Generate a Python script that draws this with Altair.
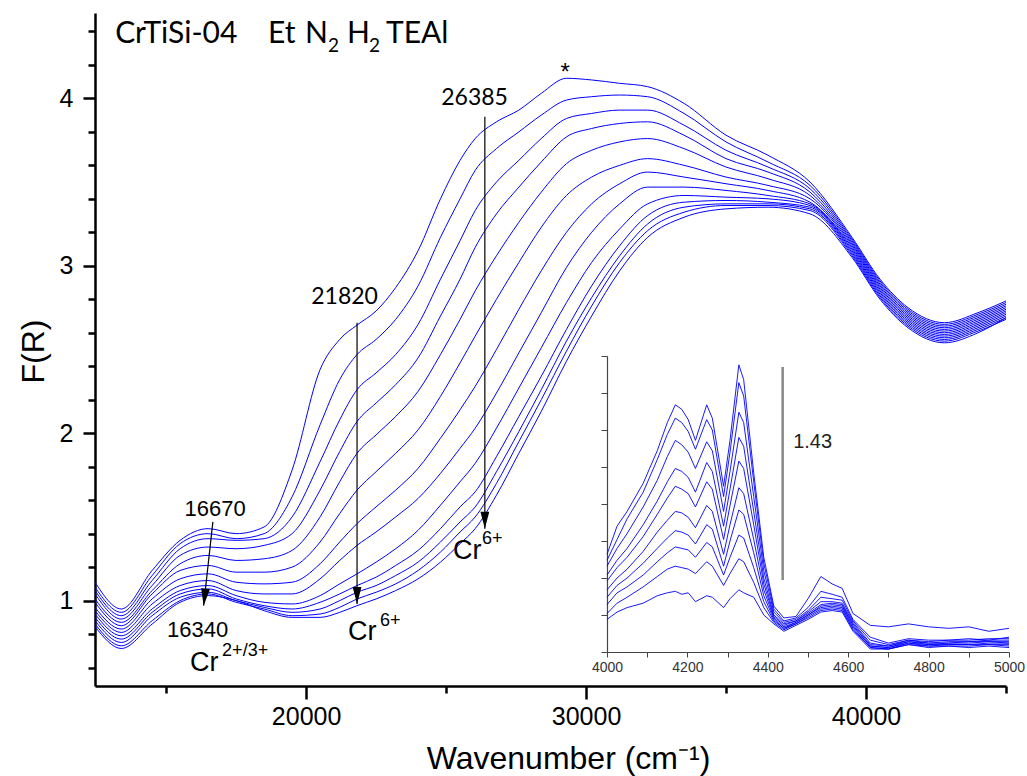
import altair as alt
import pandas as pd

# ---------------------------------------------------------------- data
# UV-Vis DRS of CrTiSi-04 during Et / N2 / H2 / TEAl treatment, F(R) vs wavenumber (cm-1)
WAVENUMBER = [12460, 13400, 14500, 15500, 16500, 17500, 18500, 19500, 20500, 21200,
              21820, 22500, 23200, 24000, 24800, 25500, 26040, 26800, 27600, 28400,
              29300, 30200, 31200, 32200, 33500, 35000, 36500, 38000, 39500, 40500,
              41500, 42800, 44000, 45000]

S01 = [1.11, 0.95, 1.18, 1.36, 1.43, 1.40, 1.44, 1.78, 2.38, 2.56, 2.646, 2.73, 2.87, 3.09, 3.40, 3.63, 3.76,
       3.86, 3.93, 4.03, 4.12, 4.11, 4.09, 4.07, 3.97, 3.78, 3.66, 3.50, 3.17, 2.92, 2.75, 2.66, 2.72, 2.79]
S02 = [1.08, 0.93, 1.15, 1.34, 1.40, 1.37, 1.40, 1.62, 2.05, 2.32, 2.47, 2.56, 2.68, 2.88, 3.17, 3.40, 3.57,
       3.70, 3.80, 3.90, 3.99, 4.01, 4.02, 4.01, 3.91, 3.74, 3.62, 3.48, 3.16, 2.91, 2.74, 2.65, 2.71, 2.78]
S03 = [1.06, 0.91, 1.12, 1.31, 1.37, 1.36, 1.37, 1.50, 1.83, 2.08, 2.26, 2.36, 2.47, 2.65, 2.92, 3.15, 3.33,
       3.50, 3.63, 3.76, 3.88, 3.91, 3.93, 3.93, 3.84, 3.69, 3.59, 3.46, 3.15, 2.90, 2.73, 2.64, 2.70, 2.77]
S04 = [1.04, 0.89, 1.09, 1.27, 1.32, 1.31, 1.33, 1.40, 1.66, 1.89, 2.07, 2.18, 2.29, 2.45, 2.70, 2.92, 3.11,
       3.31, 3.47, 3.62, 3.77, 3.82, 3.85, 3.86, 3.78, 3.64, 3.56, 3.44, 3.14, 2.89, 2.72, 2.63, 2.69, 2.76]
S05 = [1.01, 0.87, 1.06, 1.22, 1.27, 1.24, 1.25, 1.30, 1.50, 1.71, 1.88, 1.99, 2.10, 2.25, 2.47, 2.68, 2.85,
       3.06, 3.26, 3.44, 3.61, 3.69, 3.74, 3.76, 3.70, 3.59, 3.52, 3.42, 3.13, 2.88, 2.71, 2.62, 2.68, 2.75]
S06 = [0.99, 0.85, 1.04, 1.18, 1.21, 1.17, 1.17, 1.20, 1.35, 1.52, 1.66, 1.77, 1.88, 2.02, 2.22, 2.42, 2.58,
       2.80, 3.02, 3.23, 3.42, 3.53, 3.60, 3.64, 3.60, 3.53, 3.48, 3.40, 3.12, 2.87, 2.70, 2.61, 2.67, 2.74]
S07 = [0.96, 0.83, 1.01, 1.13, 1.16, 1.11, 1.10, 1.11, 1.22, 1.35, 1.46, 1.56, 1.66, 1.79, 1.97, 2.14, 2.28,
       2.50, 2.74, 2.97, 3.20, 3.37, 3.49, 3.56, 3.53, 3.49, 3.45, 3.38, 3.11, 2.86, 2.69, 2.60, 2.66, 2.73]
S08 = [0.94, 0.81, 0.98, 1.09, 1.12, 1.06, 1.04, 1.04, 1.13, 1.24, 1.33, 1.41, 1.50, 1.61, 1.76, 1.91, 2.03,
       2.24, 2.48, 2.72, 2.99, 3.20, 3.37, 3.47, 3.47, 3.45, 3.42, 3.37, 3.10, 2.85, 2.68, 2.59, 2.65, 2.72]
S09 = [0.92, 0.79, 0.95, 1.06, 1.09, 1.03, 0.99, 0.98, 1.03, 1.10, 1.16, 1.23, 1.31, 1.42, 1.57, 1.71, 1.82,
       2.03, 2.27, 2.51, 2.78, 3.02, 3.22, 3.37, 3.42, 3.41, 3.40, 3.36, 3.09, 2.84, 2.67, 2.58, 2.64, 2.71]
S10 = [0.90, 0.77, 0.93, 1.04, 1.07, 1.01, 0.97, 0.95, 0.99, 1.04, 1.09, 1.14, 1.21, 1.30, 1.43, 1.56, 1.65,
       1.86, 2.10, 2.34, 2.62, 2.88, 3.12, 3.30, 3.38, 3.39, 3.38, 3.35, 3.08, 2.83, 2.66, 2.57, 2.63, 2.70]
S11 = [0.88, 0.75, 0.91, 1.02, 1.05, 1.00, 0.96, 0.93, 0.95, 1.00, 1.05, 1.09, 1.15, 1.23, 1.35, 1.47, 1.56,
       1.77, 2.01, 2.26, 2.55, 2.81, 3.06, 3.25, 3.35, 3.37, 3.37, 3.34, 3.07, 2.82, 2.65, 2.56, 2.62, 2.69]
S12 = [0.86, 0.73, 0.88, 1.00, 1.04, 0.99, 0.95, 0.91, 0.92, 0.96, 1.01, 1.05, 1.10, 1.18, 1.29, 1.41, 1.50,
       1.70, 1.95, 2.20, 2.49, 2.76, 3.02, 3.21, 3.32, 3.36, 3.36, 3.33, 3.06, 2.81, 2.64, 2.55, 2.61, 2.68]
S13 = [0.845, 0.714, 0.86, 0.99, 1.03, 1.00, 0.94, 0.90, 0.90, 0.93, 0.97, 1.01, 1.06, 1.13, 1.23, 1.34, 1.43,
       1.63, 1.88, 2.13, 2.43, 2.70, 2.97, 3.17, 3.29, 3.34, 3.35, 3.31, 3.05, 2.80, 2.63, 2.54, 2.60, 2.69]
SPECTRA = [S01, S02, S03, S04, S05, S06, S07, S08, S09, S10, S11, S12, S13]

# NIR region (inset), relative F(R)
NIR_WAVENUMBER = [4000, 4025, 4050, 4090, 4125, 4150, 4170, 4186, 4202, 4220, 4248, 4262, 4290, 4306,
                  4328, 4340, 4365, 4390, 4415, 4440, 4470, 4500, 4532, 4560, 4585, 4612, 4655, 4700,
                  4750, 4800, 4850, 4900, 4950, 5000]
N01 = [0.66, 0.85, 0.95, 1.14, 1.36, 1.55, 1.67, 1.64, 1.57, 1.43, 1.67, 1.58, 1.12, 1.43, 1.94, 1.84, 1.21,
       0.64, 0.31, 0.23, 0.24, 0.36, 0.51, 0.46, 0.43, 0.26, 0.18, 0.17, 0.19, 0.17, 0.16, 0.17, 0.14, 0.16]
N02 = [0.62, 0.76, 0.90, 1.08, 1.30, 1.47, 1.58, 1.55, 1.49, 1.37, 1.57, 1.50, 1.05, 1.35, 1.82, 1.73, 1.15,
       0.60, 0.29, 0.21, 0.23, 0.30, 0.41, 0.39, 0.37, 0.22, 0.10, 0.06, 0.09, 0.08, 0.08, 0.09, 0.08, 0.10]
N03 = [0.58, 0.70, 0.80, 0.98, 1.16, 1.32, 1.43, 1.40, 1.35, 1.24, 1.42, 1.36, 0.95, 1.22, 1.62, 1.55, 1.05,
       0.55, 0.27, 0.20, 0.22, 0.28, 0.37, 0.36, 0.35, 0.21, 0.08, 0.05, 0.08, 0.07, 0.08, 0.08, 0.09, 0.09]
N04 = [0.52, 0.62, 0.70, 0.86, 1.02, 1.15, 1.24, 1.22, 1.18, 1.08, 1.28, 1.22, 0.85, 1.10, 1.45, 1.39, 0.95,
       0.50, 0.25, 0.19, 0.21, 0.27, 0.34, 0.34, 0.33, 0.20, 0.06, 0.04, 0.08, 0.06, 0.07, 0.07, 0.08, 0.08]
N05 = [0.48, 0.57, 0.64, 0.78, 0.93, 1.04, 1.12, 1.10, 1.07, 0.98, 1.15, 1.10, 0.76, 0.99, 1.29, 1.24, 0.86,
       0.46, 0.24, 0.18, 0.21, 0.26, 0.32, 0.33, 0.32, 0.19, 0.05, 0.04, 0.07, 0.06, 0.06, 0.07, 0.07, 0.07]
N06 = [0.42, 0.50, 0.56, 0.68, 0.81, 0.89, 0.95, 0.94, 0.91, 0.84, 0.99, 0.95, 0.66, 0.86, 1.11, 1.07, 0.76,
       0.42, 0.23, 0.17, 0.20, 0.25, 0.31, 0.32, 0.31, 0.18, 0.04, 0.03, 0.07, 0.05, 0.06, 0.06, 0.07, 0.06]
N07 = [0.37, 0.45, 0.50, 0.60, 0.70, 0.77, 0.82, 0.81, 0.79, 0.73, 0.86, 0.83, 0.58, 0.75, 0.96, 0.93, 0.67,
       0.38, 0.22, 0.16, 0.20, 0.25, 0.30, 0.31, 0.30, 0.17, 0.04, 0.03, 0.06, 0.05, 0.05, 0.05, 0.06, 0.06]
N08 = [0.32, 0.40, 0.44, 0.52, 0.61, 0.67, 0.71, 0.70, 0.69, 0.64, 0.74, 0.71, 0.52, 0.64, 0.79, 0.77, 0.57,
       0.34, 0.21, 0.16, 0.19, 0.24, 0.29, 0.30, 0.29, 0.16, 0.03, 0.02, 0.06, 0.04, 0.05, 0.05, 0.05, 0.05]
N09 = [0.26, 0.33, 0.37, 0.44, 0.51, 0.56, 0.58, 0.57, 0.56, 0.53, 0.61, 0.58, 0.45, 0.53, 0.63, 0.61, 0.47,
       0.30, 0.20, 0.15, 0.19, 0.23, 0.28, 0.29, 0.28, 0.15, 0.03, 0.02, 0.05, 0.04, 0.04, 0.04, 0.05, 0.04]
N10 = [0.22, 0.27, 0.30, 0.33, 0.38, 0.40, 0.41, 0.39, 0.40, 0.34, 0.38, 0.37, 0.30, 0.36, 0.42, 0.40, 0.37,
       0.25, 0.19, 0.14, 0.18, 0.22, 0.27, 0.28, 0.27, 0.14, 0.02, 0.02, 0.05, 0.03, 0.04, 0.03, 0.04, 0.03]
NIR_SPECTRA = [N01, N02, N03, N04, N05, N06, N07, N08, N09, N10]

# axes
X_DOMAIN = [12460, 45000]
Y_DOMAIN = [0.49, 4.51]
X_MAJOR = [20000, 30000, 40000]
X_MINOR = [15000, 25000, 35000, 45000]
Y_MAJOR = [1, 2, 3, 4]
Y_MINOR = [0.6, 0.8, 1.2, 1.4, 1.6, 1.8, 2.2, 2.4, 2.6, 2.8, 3.2, 3.4, 3.6, 3.8, 4.2, 4.4]
NIR_X_DOMAIN = [4000, 5000]
NIR_Y_DOMAIN = [0, 2]
NIR_X_TICKS = list(range(4000, 5001, 100))
NIR_Y_TICKS = [0, 0.25, 0.5, 0.75, 1.0, 1.25, 1.5, 1.75, 2.0]

# annotations (positions in wavenumber / F(R))
BAND_LABELS = pd.DataFrame({
    "t": ["21820", "26385"],
    "wn": [21375, 26018],
    "F": [2.77, 3.962],
})
PLAIN_CENTER = pd.DataFrame({
    "t": ["16670", "16340", "*"],
    "wn": [16750, 16125, 29250],
    "F": [1.507, 0.785, 4.111],
    "sz": [22, 22, 24],
})
SPECIES = pd.DataFrame({
    "t": ["Cr", "2+/3+", "Cr", "6+", "Cr", "6+"],
    "wn": [15857, 17000, 21500, 22643, 25250, 26286],
    "F": [0.577, 0.672, 0.762, 0.851, 1.25, 1.34],
    "sz": [27, 18, 27, 18, 27, 18],
})
HEADING = pd.DataFrame({
    "t": ["CrTiSi-04", "Et", "N", "2", "H", "2", "TEAl"],
    "wn": [13179, 18643, 19964, 20786, 21464, 22250, 22857],
    "F": [4.331, 4.331, 4.331, 4.278, 4.331, 4.278, 4.331],
    "sz": [30, 30, 30, 19, 30, 19, 30],
})
ARROWS = pd.DataFrame({
    "wn": [16670, 21820, 26385],
    "F": [1.47, 2.66, 3.89],
    "wn2": [16340, 21820, 26385],
    "F2": [0.97, 0.98, 1.43],
    "ang": [6.4, 0, 0],
})
SCALE_BAR = pd.DataFrame({"wn": [4437], "F": [0.486], "F2": [1.926]})
SCALE_LABEL = pd.DataFrame({"t": ["1.43"], "wn": [4463], "F": [1.378]})

ARIAL = "Liberation Sans, Arial, sans-serif"
CALI = "Lato, Carlito, Calibri, sans-serif"
BLUE = "#0000ff"

# ---------------------------------------------------------------- tables
main_rows = []
for k, vals in enumerate(SPECTRA):
    for w, f in zip(WAVENUMBER, vals):
        main_rows.append({"wn": w, "F": f, "s": k})
main_df = pd.DataFrame(main_rows)

nir_rows = []
for k, vals in enumerate(NIR_SPECTRA):
    for w, f in zip(NIR_WAVENUMBER, vals):
        nir_rows.append({"wn": w, "F": f, "s": k})
nir_df = pd.DataFrame(nir_rows)

# ---------------------------------------------------------------- main panel
# every layer gets the same explicit domain, so the independent scales coincide
xs = alt.Scale(domain=X_DOMAIN, nice=False, zero=False)
ys = alt.Scale(domain=Y_DOMAIN, nice=False, zero=False)


def mx(field="wn", axis=None):
    return alt.X(f"{field}:Q", scale=xs, axis=axis)


def my(field="F", axis=None):
    return alt.Y(f"{field}:Q", scale=ys, axis=axis)


x_axis = alt.Axis(
    orient="bottom", values=X_MAJOR, format="d", grid=False,
    tickSize=13, tickWidth=2.5, tickColor="black",
    domainColor="black", domainWidth=2.5,
    labelFont=ARIAL, labelFontSize=25, labelColor="black", labelPadding=5,
    labelFlush=False, labelOverlap=False,
    title="Wavenumber (cm⁻¹)", titleFont=ARIAL, titleFontSize=32,
    titleFontWeight="normal", titleColor="black",
    titleX=473, titleY=82, titleAlign="center", titleBaseline="alphabetic",
)
y_axis = alt.Axis(
    orient="left", values=Y_MAJOR, grid=False,
    tickSize=12, tickWidth=2.5, tickColor="black",
    domainColor="black", domainWidth=2.5,
    labelFont=ARIAL, labelFontSize=25, labelColor="black", labelPadding=10,
    labelFlush=False, labelOverlap=False,
    title="F(R)", titleFont=ARIAL, titleFontSize=32, titleFontWeight="normal",
    titleColor="black", titleX=-62, titleY=338, titleAngle=270,
    titleAlign="center", titleBaseline="middle",
)

spectra = alt.Chart(main_df).mark_line(
    color=BLUE, strokeWidth=1, interpolate="monotone"
).encode(x=mx(axis=x_axis), y=my(axis=y_axis), detail="s:N")

# short minor ticks on the main axes
minor_ticks = alt.Chart(pd.DataFrame({"wn": [X_DOMAIN[0]], "F": [Y_DOMAIN[0]]})).mark_point(
    opacity=0
).encode(
    x=mx(axis=alt.Axis(
        orient="bottom", values=X_MINOR, labels=False, domain=False, grid=False,
        tickSize=7, tickWidth=2.5, tickColor="black", title=None)),
    y=my(axis=alt.Axis(
        orient="left", values=Y_MINOR, labels=False, domain=False, grid=False,
        tickSize=7, tickWidth=2.5, tickColor="black", title=None)),
)

arrow_lines = alt.Chart(ARROWS).mark_rule(color="black", strokeWidth=1.2).encode(
    x=mx(), x2="wn2:Q", y=my(), y2="F2:Q",
)
arrow_heads = alt.Chart(ARROWS).mark_point(
    shape="M-0.26,-1L0.26,-1L0,0Z", filled=True, color="black",
    size=1156, opacity=1, strokeWidth=0,
).encode(x=mx("wn2"), y=my("F2"), angle=alt.Angle("ang:Q", scale=None))

band_text = alt.Chart(BAND_LABELS).mark_text(
    font=CALI, fontSize=23, color="black", align="center", baseline="alphabetic"
).encode(x=mx(), y=my(), text="t:N")

plain_text = alt.Chart(PLAIN_CENTER).mark_text(
    font=ARIAL, color="black", align="center", baseline="alphabetic"
).encode(x=mx(), y=my(), text="t:N", size=alt.Size("sz:Q", scale=None, legend=None))

species_text = alt.Chart(SPECIES).mark_text(
    font=ARIAL, color="black", align="left", baseline="alphabetic"
).encode(x=mx(), y=my(), text="t:N", size=alt.Size("sz:Q", scale=None, legend=None))

heading_text = alt.Chart(HEADING).mark_text(
    font=CALI, color="black", align="left", baseline="alphabetic"
).encode(x=mx(), y=my(), text="t:N", size=alt.Size("sz:Q", scale=None, legend=None))

# ---------------------------------------------------------------- NIR inset
ixs = alt.Scale(domain=NIR_X_DOMAIN, range=[512, 914], nice=False, zero=False)
iys = alt.Scale(domain=NIR_Y_DOMAIN, range=[639, 343], nice=False, zero=False)

nir_lines = alt.Chart(nir_df).mark_line(color=BLUE, strokeWidth=1, opacity=0.9).encode(
    x=alt.X("wn:Q", scale=ixs, axis=alt.Axis(
        orient="bottom", offset=-34, values=NIR_X_TICKS, format="d", grid=False,
        labelExpr="datum.value % 200 === 0 ? datum.label : ''",
        tickSize=5, tickWidth=1, tickColor="#444", domainColor="#444", domainWidth=1.2,
        labelFont=ARIAL, labelFontSize=14, labelColor="#333", labelPadding=3,
        labelFlush=False, labelOverlap=False, title=None)),
    y=alt.Y("F:Q", scale=iys, axis=alt.Axis(
        orient="left", offset=-512, values=NIR_Y_TICKS, labels=False, grid=False,
        tickSize=6, tickWidth=1, tickColor="#444", domainColor="#444", domainWidth=1.2,
        title=None)),
    detail="s:N",
)
scale_bar = alt.Chart(SCALE_BAR).mark_rule(color="#888888", strokeWidth=2.5).encode(
    x=alt.X("wn:Q", scale=ixs, axis=None),
    y=alt.Y("F:Q", scale=iys, axis=None), y2="F2:Q",
)
scale_text = alt.Chart(SCALE_LABEL).mark_text(
    font=ARIAL, fontSize=20, color="#222", align="left", baseline="alphabetic"
).encode(
    x=alt.X("wn:Q", scale=ixs, axis=None),
    y=alt.Y("F:Q", scale=iys, axis=None),
    text="t:N",
)

chart = alt.layer(
    spectra, minor_ticks, arrow_lines, arrow_heads, band_text, plain_text,
    species_text, heading_text, nir_lines, scale_bar, scale_text,
).resolve_scale(
    x="independent", y="independent"
).resolve_axis(
    x="independent", y="independent"
).properties(
    width=911, height=673,
    padding={"left": 95, "top": 13, "right": 21, "bottom": 90},
    autosize=alt.AutoSizeParams(type="none"),
    background="white",
).configure_view(stroke=None)

chart.save("out.html", embed_options={"renderer": "svg", "actions": False})
